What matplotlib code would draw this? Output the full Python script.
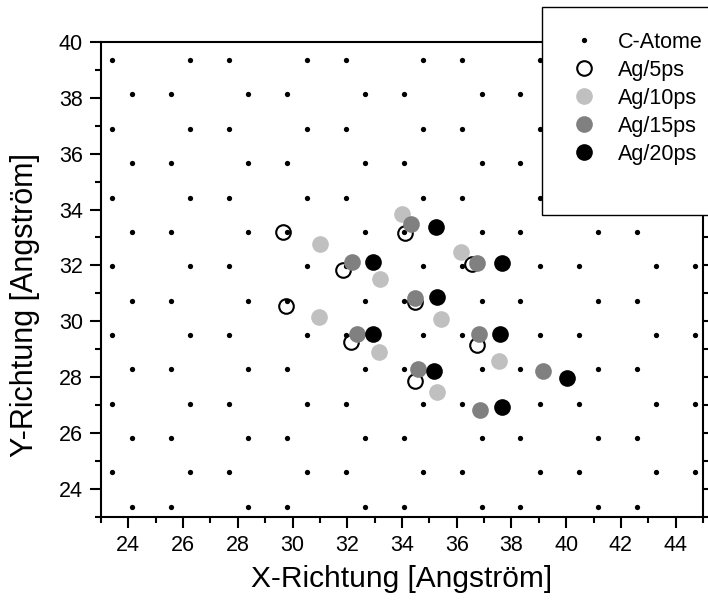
import matplotlib
matplotlib.use("Agg")
import matplotlib.pyplot as plt
from matplotlib.patches import Rectangle
from matplotlib.ticker import MultipleLocator

plt.rcParams['font.family'] = ['Liberation Sans', 'DejaVu Sans']

# ------------------ DATA ------------------
# carbon lattice: rows alternate between the two x sets (A, B, A, B, ...)
row_y = [39.35, 38.12, 36.89, 35.66, 34.43, 33.20, 31.97,
         30.74, 29.51, 28.28, 27.05, 25.82, 24.59, 23.36]
row_a_x = [23.42, 26.26, 27.68, 30.52, 31.94, 34.78, 36.20, 39.04, 40.46, 43.30, 44.72]
row_b_x = [24.13, 25.55, 28.39, 29.81, 32.65, 34.07, 36.91, 38.33, 41.17, 42.59]

ag5_x = [29.65, 29.76, 31.85, 34.10, 34.46, 36.55, 32.15, 36.74, 34.46]
ag5_y = [33.20, 30.56, 31.84, 33.17, 30.68, 32.06, 29.25, 29.15, 27.87]

ag10_x = [34.00, 31.00, 33.19, 36.14, 30.97, 35.44, 33.16, 37.54, 35.29]
ag10_y = [33.85, 32.77, 31.52, 32.49, 30.14, 30.09, 28.89, 28.57, 27.46]

ag15_x = [34.34, 32.19, 36.75, 34.49, 32.36, 36.80, 34.58, 39.17, 36.86]
ag15_y = [33.49, 32.11, 32.10, 30.84, 29.55, 29.55, 28.29, 28.21, 26.82]

ag20_x = [35.26, 32.94, 37.64, 35.29, 32.94, 37.57, 35.16, 40.02, 37.66]
ag20_y = [33.39, 32.11, 32.10, 30.86, 29.55, 29.55, 28.21, 27.97, 26.92]

# build lattice point list
c_x = []
c_y = []
for i, y in enumerate(row_y):
    xs = row_a_x if i % 2 == 0 else row_b_x
    for x in xs:
        c_x.append(x)
        c_y.append(y)

# ------------------ PLOT ------------------
fig = plt.figure(figsize=(7.08, 6.03), dpi=100)
ax = fig.add_axes([101 / 708, 1 - 516.7 / 603, (703 - 101) / 708, (516.7 - 42) / 603])

ax.plot(c_x, c_y, "o", ls="none", color="black", ms=3.8, mew=0, label="C-Atome")
ax.plot(ag5_x, ag5_y, "o", ls="none", mfc="none", mec="black", ms=10.5, mew=1.5, label="Ag/5ps")
ax.plot(ag10_x, ag10_y, "o", ls="none", color="#c0c0c0", ms=12, mew=0, label="Ag/10ps")
ax.plot(ag15_x, ag15_y, "o", ls="none", color="#808080", ms=12, mew=0, label="Ag/15ps")
ax.plot(ag20_x, ag20_y, "o", ls="none", color="black", ms=12, mew=0, label="Ag/20ps")

ax.set_xlim(23, 45)
ax.set_ylim(23, 40)
ax.xaxis.set_minor_locator(MultipleLocator(1))
ax.yaxis.set_minor_locator(MultipleLocator(1))
ax.set_xticks(range(24, 45, 2))
ax.set_yticks(range(24, 41, 2))

for s in ax.spines.values():
    s.set_linewidth(1.5)

ax.tick_params(which="major", direction="out", length=8, width=1.5, labelsize=15.5, pad=5)
ax.tick_params(which="minor", direction="out", length=4, width=1.5)
ax.tick_params(which="both", right=True, top=False)
ax.tick_params(axis="y", which="both", labelright=False)

ax.set_xlabel("X-Richtung [Angström]", fontsize=21.5, labelpad=7)
ax.set_ylabel("Y-Richtung [Angström]", fontsize=22)
ax.yaxis.set_label_coords(-0.101, 0.445)

# legend box sticking out of the top right corner
box = Rectangle((541.7 / 708, 1 - 215 / 603), 0.4, (215 - 7) / 603,
                transform=fig.transFigure, facecolor="white", edgecolor="black",
                linewidth=1, zorder=5)
fig.add_artist(box)

leg = fig.legend(loc="upper left", bbox_to_anchor=(571 / 708, 1 - 32 / 603),
                 frameon=False, fontsize=15.5, handlelength=1.2, handletextpad=1.0,
                 labelspacing=0.32, borderpad=0, borderaxespad=0)
leg.set_zorder(6)

fig.savefig("out.png", dpi=100)
